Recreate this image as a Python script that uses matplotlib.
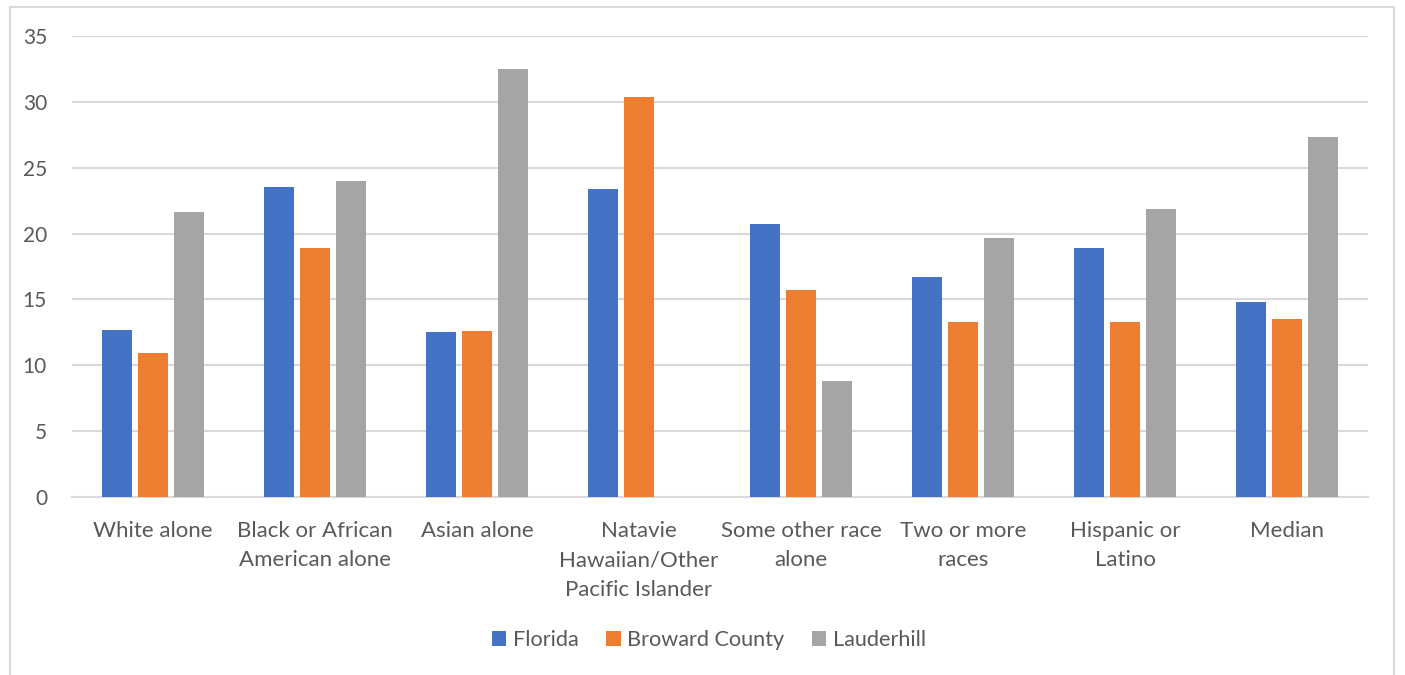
import matplotlib
matplotlib.use("Agg")
import matplotlib.pyplot as plt
import numpy as np
from matplotlib.patches import Rectangle

categories = [
    "White alone",
    "Black or African\nAmerican alone",
    "Asian alone",
    "Natavie\nHawaiian/Other\nPacific Islander",
    "Some other race\nalone",
    "Two or more\nraces",
    "Hispanic or\nLatino",
    "Median",
]
series_names = ["Florida", "Broward County", "Lauderhill"]
florida = [12.7, 23.5, 12.5, 23.4, 20.7, 16.7, 18.9, 14.8]
broward = [10.9, 18.9, 12.6, 30.4, 15.7, 13.3, 13.3, 13.5]
lauderhill = [21.6, 24.0, 32.5, 0.0, 8.8, 19.7, 21.9, 27.3]
colors = ["#4472C4", "#ED7D31", "#A5A5A5"]
yticks = [0, 5, 10, 15, 20, 25, 30, 35]

plt.rcParams["font.family"] = ["Lato", "DejaVu Sans"]
text_color = "#595959"
grid_color = "#D9D9D9"

fig = plt.figure(figsize=(14.05, 6.75), dpi=100)
ax = fig.add_axes([72 / 1405, 1 - 497 / 675, (1368 - 72) / 1405, (497 - 36) / 675])

x = np.arange(len(categories))
step = 0.222
width = 0.18
for i, (vals, name) in enumerate(zip([florida, broward, lauderhill], series_names)):
    ax.bar(x + (i - 1) * step, vals, width=width, color=colors[i], label=name, zorder=3)

ax.set_xlim(-0.5, len(categories) - 0.5)
ax.set_ylim(0, 35)
ax.set_yticks(yticks)
ax.set_xticks(x)
ax.set_xticklabels(categories, linespacing=1.6)
ax.tick_params(axis="x", length=0, labelsize=16, colors=text_color, pad=17)
ax.tick_params(axis="y", length=0, labelsize=15, colors=text_color, pad=18)

ax.grid(axis="y", color=grid_color, linewidth=1.5, zorder=0)
for side in ["top", "right", "left"]:
    ax.spines[side].set_visible(False)
ax.spines["bottom"].set_color(grid_color)
ax.spines["bottom"].set_linewidth(1.5)
ax.spines["bottom"].set_zorder(2)

leg = fig.legend(
    loc="center",
    bbox_to_anchor=(709 / 1405, 1 - 640 / 675),
    ncol=3,
    frameon=False,
    fontsize=15.6,
    handlelength=0.65,
    handleheight=0.65,
    handletextpad=0.3,
    columnspacing=1.3,
)
for t in leg.get_texts():
    t.set_color(text_color)

# outer chart border
fig.patches.append(
    Rectangle((10 / 1405, -0.01), (1394 - 10) / 1405, 1 - 7 / 675 + 0.01,
              transform=fig.transFigure, fill=False, edgecolor=grid_color, linewidth=1.5)
)

fig.savefig("out.png", dpi=100, facecolor="white")
